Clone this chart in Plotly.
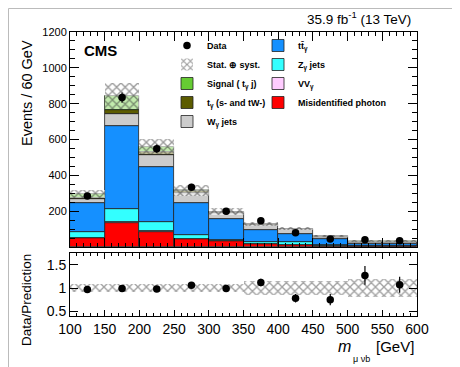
import numpy as np
import plotly.graph_objects as go

# ---------------- data ----------------
bin_centers = [125, 175, 225, 275, 325, 375, 425, 475, 525, 575]
misid_photon = [52, 136, 86, 43, 32, 19, 13, 7, 4, 4]
vv_gamma = [1, 2, 1, 1, 1, 0.5, 0.5, 0.5, 0.3, 0.3]
z_gamma = [32, 73, 53, 21, 8, 9, 17, 6, 3, 3]
tt_gamma = [162, 464, 308, 183, 114, 69, 41, 32, 12, 12]
w_gamma = [21, 66, 65, 54, 37, 28, 28, 13, 11, 11]
t_gamma_sw = [6, 24, 19, 8, 3, 1, 1, 0.5, 0.3, 0.3]
signal_tgj = [22, 78, 28, 7, 3, 2, 2, 1.5, 1, 1]
syst_err = [23, 70, 43, 30, 17, 10, 10, 7, 6, 6]
data_obs = [285, 834, 549, 334, 200, 146, 80, 45, 41, 35]

ratio_vals = [0.97, 0.99, 0.98, 1.06, 0.99, 1.12, 0.78, 0.75, 1.27, 1.07]
ratio_errs = [0.04, 0.03, 0.04, 0.05, 0.07, 0.08, 0.09, 0.12, 0.20, 0.17]
band_half = [0.08, 0.08, 0.08, 0.08, 0.08, 0.14, 0.14, 0.14, 0.20, 0.20]

x_ticks = [100, 150, 200, 250, 300, 350, 400, 450, 500, 550, 600]

# ---------------- figure ----------------
FONT = "Liberation Sans"
OFF = 8  # page body margin
W, H = 460 - OFF, 367 - OFF
ML, MR, MT, MB = 70 - OFF, 43, 32 - OFF, 51
PW, PH = W - ML - MR, H - MT - MB

def px(xp):  # page pixel -> paper x
    return (xp - OFF - ML) / PW

def py(yp):  # page pixel -> paper y
    return (H - MB - (yp - OFF)) / PH

fig = go.Figure()

components = [
    ("Misidentified photon", misid_photon, "#ff0000", "legend2", 4),
    ("VV<sub>γ</sub>", vv_gamma, "#ffccff", "legend2", 3),
    ("Z<sub>γ</sub> jets", z_gamma, "#33ffff", "legend2", 2),
    ("tt̄<sub>γ</sub>", tt_gamma, "#1590ff", "legend2", 1),
    ("W<sub>γ</sub> jets", w_gamma, "#cccccc", "legend", 5),
    ("t<sub>γ</sub> (s- and tW-)", t_gamma_sw, "#5c5c00", "legend", 4),
    ("Signal ( t<sub>γ</sub> j)", signal_tgj, "#66cc33", "legend", 3),
]

base = np.zeros(len(bin_centers))
for name, vals, col, leg, rank in components:
    vals = np.array(vals, dtype=float)
    fig.add_trace(go.Bar(
        x=bin_centers, y=vals, base=base.copy(), width=50,
        marker=dict(color=col, line=dict(color="#222222", width=0.8)),
        name="<b>" + name + "</b>", legend=leg, legendrank=rank,
        xaxis="x", yaxis="y",
    ))
    base = base + vals
total = base

err = np.array(syst_err, dtype=float)
fig.add_trace(go.Bar(
    x=bin_centers, y=2 * err, base=total - err, width=50,
    marker=dict(color="rgba(0,0,0,0)", line=dict(width=0),
                pattern=dict(shape="x", fgcolor="#333333", bgcolor="rgba(255,255,255,0.6)",
                             size=6, solidity=0.4, fillmode="overlay")),
    name="<b>Stat. ⊕ syst.</b>", legend="legend", legendrank=2,
    xaxis="x", yaxis="y",
))

fig.add_trace(go.Scatter(
    x=bin_centers, y=data_obs, mode="markers",
    marker=dict(color="black", size=7.5),
    error_y=dict(type="data", array=np.sqrt(data_obs), color="black", thickness=1.2, width=0),
    name="<b>Data</b>", legend="legend", legendrank=1,
    xaxis="x", yaxis="y",
))

# ratio panel
bh = np.array(band_half)
fig.add_trace(go.Bar(
    x=bin_centers, y=2 * bh, base=1 - bh, width=50,
    marker=dict(color="rgba(0,0,0,0)", line=dict(width=0),
                pattern=dict(shape="x", fgcolor="#444444", bgcolor="rgba(0,0,0,0)",
                             size=6, solidity=0.4, fillmode="overlay")),
    showlegend=False, xaxis="x2", yaxis="y2",
))
fig.add_trace(go.Scatter(
    x=bin_centers, y=ratio_vals, mode="markers",
    marker=dict(color="black", size=7.5),
    error_y=dict(type="data", array=ratio_errs, color="black", thickness=1.2, width=0),
    showlegend=False, xaxis="x2", yaxis="y2",
))

axis_common = dict(showline=True, linecolor="black", linewidth=1, mirror="allticks",
                   ticks="inside", tickcolor="black", showgrid=False, zeroline=False)

fig.update_layout(
    width=W, height=H,
    margin=dict(l=ML, r=MR, t=MT, b=MB),
    paper_bgcolor="white", plot_bgcolor="white",
    barmode="overlay", bargap=0,
    font=dict(family=FONT, color="black"),
    xaxis=dict(domain=[0, 1], anchor="y", range=[100, 600], dtick=50, tick0=100,
               ticklen=9, showticklabels=False,
               minor=dict(ticks="inside", dtick=10, ticklen=4, tickcolor="black"),
               **axis_common),
    yaxis=dict(domain=[py(247), 1], anchor="x", range=[0, 1200],
               tickvals=[200, 400, 600, 800, 1000, 1200], ticklen=9,
               tickfont=dict(size=11),
               minor=dict(ticks="inside", dtick=50, ticklen=5, tickcolor="black"),
               **axis_common),
    xaxis2=dict(domain=[0, 1], anchor="y2", range=[100, 600], tickvals=x_ticks,
                ticktext=[str(v) for v in x_ticks], ticklen=6, tickfont=dict(size=14),
                minor=dict(ticks="inside", dtick=10, ticklen=3, tickcolor="black"),
                **axis_common),
    yaxis2=dict(domain=[0, py(253)], anchor="x2", range=[0.4, 1.75],
                tickvals=[0.5, 1, 1.5], ticktext=["0.5", "1", "1.5"], ticklen=8,
                tickfont=dict(size=14), **axis_common),
    legend=dict(x=px(167), y=py(31), xanchor="left", yanchor="top",
                bgcolor="rgba(0,0,0,0)", font=dict(size=9, family=FONT),
                traceorder="normal", tracegroupgap=0, itemwidth=30),
    legend2=dict(x=px(258), y=py(31), xanchor="left", yanchor="top",
                 bgcolor="rgba(0,0,0,0)", font=dict(size=9, family=FONT),
                 traceorder="normal", tracegroupgap=0, itemwidth=30),
    showlegend=True,
)

annotations = [
    dict(text="35.9 fb<sup>-1</sup> (13 TeV)", x=px(413), y=py(18), xanchor="right",
         yanchor="middle", font=dict(size=13.5)),
    dict(text="<b>CMS</b>", x=px(82), y=py(50), xanchor="left", yanchor="middle",
         font=dict(size=15)),
    dict(text="Events / 60 GeV", x=px(27), y=py(93), textangle=-90, xanchor="center",
         yanchor="middle", font=dict(size=14.5)),
    dict(text="Data/Prediction", x=px(26), y=py(300), textangle=-90, xanchor="center",
         yanchor="middle", font=dict(size=13.5)),
    dict(text="<i>m</i>", x=px(344), y=py(346), xanchor="center", yanchor="middle",
         font=dict(size=16)),
    dict(text="μ νb", x=px(361), y=py(359), xanchor="center", yanchor="middle",
         font=dict(size=9)),
    dict(text="[GeV]", x=px(395), y=py(346), xanchor="center", yanchor="middle",
         font=dict(size=15)),
]
for a in annotations:
    a.update(xref="paper", yref="paper", showarrow=False)
fig.update_layout(annotations=annotations)

# light frame of the screenshot (top and left edges)
fig.update_layout(shapes=[
    dict(type="line", xref="paper", yref="paper", x0=px(8.5), x1=px(460), y0=py(8.5), y1=py(8.5),
         line=dict(color="#bbbbbb", width=1)),
    dict(type="line", xref="paper", yref="paper", x0=px(8.5), x1=px(8.5), y0=py(8.5), y1=py(367),
         line=dict(color="#bbbbbb", width=1)),
])

fig.write_html("out.html")
